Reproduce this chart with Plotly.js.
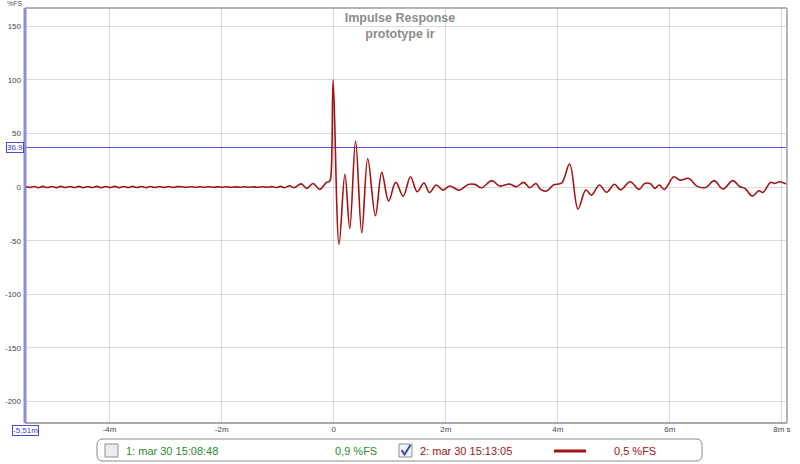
<!DOCTYPE html>
<html>
<head>
<meta charset="utf-8">
<script src="https://cdn.plot.ly/plotly-3.0.1.min.js"></script>
<style>
html,body{margin:0;padding:0;background:#fff;}
#chart{width:800px;height:464px;}
</style>
</head>
<body>
<div id="chart"></div>
<script>
// ---- data (time in ms, amplitude in %FS) ----
const timeMs = [
 -5.51,-5.43,-5.35,-5.27,-5.19,-5.11,-5.03,-4.95,-4.87,-4.79,-4.71,-4.63,-4.55,-4.47,-4.39,-4.31,-4.23,-4.15,-4.07,-3.99,
 -3.91,-3.83,-3.75,-3.67,-3.59,-3.51,-3.43,-3.35,-3.27,-3.19,-3.11,-3.03,-2.95,-2.87,-2.79,
 -2.71,-2.63,-2.55,-2.47,-2.39,-2.31,-2.23,-2.15,-2.07,-1.99,-1.91,-1.83,-1.75,-1.67,-1.59,-1.51,-1.43,-1.35,-1.27,-1.19,
 -1.11,-1.03,-0.95,-0.87,-0.79,-0.71,
 -0.58,-0.48,-0.37,-0.25,-0.13,-0.08,-0.055,-0.01,
 0.095,0.2,0.286,0.39,0.5,0.607,0.744,0.857,0.98,1.107,1.24,1.37,1.49,1.61,1.71,1.83,1.95,2.07,2.24,2.4,2.52,2.64,
 2.82,2.96,3.14,3.26,3.39,3.5,3.61,3.69,3.8,3.92,4.07,4.21,4.36,4.5,4.6,4.74,4.87,5.01,5.12,5.29,5.45,5.55,5.66,5.73,
 5.81,5.9,6.07,6.18,6.34,6.48,6.64,6.79,6.95,7.12,7.25,7.34,7.47,7.59,7.66,7.8,7.87,7.96,8.09
];
const responsePct = [
 0.7,-0.4,0.6,-0.5,0.7,-0.4,0.6,-0.5,0.7,-0.4,0.6,-0.4,0.7,-0.5,0.6,-0.4,0.7,-0.5,0.6,-0.4,
 0.7,-0.5,0.6,-0.4,0.7,-0.4,0.6,-0.5,0.6,-0.4,0.6,-0.4,0.5,-0.3,0.4,
 0.3,-0.2,0.3,-0.2,0.3,-0.1,0.3,-0.2,0.2,-0.1,0.3,-0.1,0.2,-0.2,0.3,-0.1,0.2,-0.2,0.3,-0.2,
 0.4,-0.4,0.7,-0.6,1.3,-0.5,
 3.0,-1.2,3.4,-2.1,4.4,5.0,8.0,100,
 -53.5,12,-38.5,43,-42.6,26.7,-26.7,13.7,-13,4.4,-8.4,9.6,-4.4,3.8,-5,2,-2.8,1,-2.8,2.5,2.5,-0.6,
 6,1,2.8,0.3,4.4,-0.6,3.4,-2.1,-3.7,1.9,4,21.5,-20.5,-2.8,-7.5,1.9,-4.8,2.6,-2.5,5,-2.1,3.4,2.8,-1.2,
 1.9,-2.1,9.6,6.5,8.1,0.9,-0.3,6,-1.9,6,0.3,-1.2,-8.4,-3.4,-5,4.4,3.4,5,2.5
];
const xRange = [-5.51, 8.09];
const yRange = [-220, 167];
const cursorLevel = 36.9;
const xTickVals = [-4,-2,0,2,4,6,8];
const xTickText = ['-4m','-2m','0','2m','4m','6m','8m s'];
const yTickVals = [-200,-150,-100,-50,0,50,100,150];
const yTickText = ['-200','-150','-100','-50','0','50','100','150'];
const legendNames = ['1: mar 30 15:08:48','2: mar 30 15:13:05'];
const legendValues = ['0,9 %FS','0,5 %FS'];
const xStartLabel = '-5,51m';

// ---- layout helpers (pixel -> paper) ----
const L=25,R=787,T=8,B=423;
const px = x => (x-L)/(R-L);
const py = y => (B-y)/(B-T);

const red = '#a01414';
const green = '#2e8b2e';
const font = 'Liberation Sans, Arial, sans-serif';

const cursorTrace = {
  x: xRange, y: [cursorLevel, cursorLevel], type:'scatter', mode:'lines',
  line:{color:'#5a5ae8', width:1.2}, hoverinfo:'skip', showlegend:false, cliponaxis:false
};
const trace = {
  x: timeMs, y: responsePct, type:'scatter', mode:'lines',
  line:{color:red, width:1.6, shape:'spline', smoothing:1},
  hoverinfo:'skip', showlegend:false
};

function rrect(x0,y0,x1,y1,r){
  const rx=r/(R-L), ry=r/(B-T);
  const X0=px(x0),X1=px(x1),Y0=py(y0),Y1=py(y1);
  return `M ${X0+rx} ${Y0} L ${X1-rx} ${Y0} Q ${X1} ${Y0} ${X1} ${Y0-ry} L ${X1} ${Y1+ry} Q ${X1} ${Y1} ${X1-rx} ${Y1} L ${X0+rx} ${Y1} Q ${X0} ${Y1} ${X0} ${Y1+ry} L ${X0} ${Y0-ry} Q ${X0} ${Y0} ${X0+rx} ${Y0} Z`;
}

const shapes = [
  // plot frame
  {type:'line', xref:'paper', yref:'paper', x0:0, x1:1, y0:1, y1:1, line:{color:'#b4b4b4', width:2}},
  {type:'line', xref:'paper', yref:'paper', x0:1, x1:1, y0:0, y1:1, line:{color:'#b4b4b4', width:2}},
  {type:'line', xref:'paper', yref:'paper', x0:0, x1:1, y0:0, y1:0, line:{color:'#a8a8a8', width:2}},
  {type:'line', xref:'paper', yref:'paper', x0:0, x1:0, y0:0, y1:1, line:{color:'#8c8cdc', width:3}},
  // legend box
  {type:'path', xref:'paper', yref:'paper', path:rrect(97,439,702,461,6), line:{color:'#8a8a8a', width:1}, fillcolor:'#ffffff'},
  // checkbox 1
  {type:'rect', xref:'paper', yref:'paper', x0:px(105), x1:px(118), y0:py(457), y1:py(444), line:{color:'#8f8f8f', width:1}, fillcolor:'#ececec'},
  // checkbox 2
  {type:'rect', xref:'paper', yref:'paper', x0:px(399), x1:px(412), y0:py(457), y1:py(444), line:{color:'#8f8f8f', width:1}, fillcolor:'#f2f2f2'},
  {type:'path', xref:'paper', yref:'paper', path:`M ${px(401.5)} ${py(450)} L ${px(404.5)} ${py(454.5)} L ${px(410.5)} ${py(445)}`, line:{color:'#2b4ea8', width:2}},
  // legend line sample
  {type:'line', xref:'paper', yref:'paper', x0:px(554), x1:px(586), y0:py(451), y1:py(451), line:{color:red, width:3}}
];

const annotations = [
  {xref:'paper', yref:'paper', x:px(15), y:py(3), text:'%FS', showarrow:false, font:{family:font, size:7, color:'#555'}, xanchor:'center', yanchor:'middle'},
  {xref:'paper', yref:'y', x:px(14.5), y:cursorLevel, text:'36.9', showarrow:false, font:{family:font, size:8, color:'#3c3cc8'},
   bordercolor:'#4a4ad0', borderwidth:1, borderpad:0, bgcolor:'#fff', xanchor:'center', yanchor:'middle'},
  {xref:'paper', yref:'paper', x:px(25), y:py(431), text:xStartLabel, showarrow:false, font:{family:font, size:8, color:'#3c3cc8'},
   bordercolor:'#4a4ad0', borderwidth:1, borderpad:0, bgcolor:'#fff', xanchor:'center', yanchor:'middle'},
  {xref:'paper', yref:'paper', x:px(124), y:py(451), text:legendNames[0], showarrow:false, font:{family:font, size:11, color:green}, xanchor:'left', yanchor:'middle'},
  {xref:'paper', yref:'paper', x:px(333), y:py(451), text:legendValues[0], showarrow:false, font:{family:font, size:11, color:green}, xanchor:'left', yanchor:'middle'},
  {xref:'paper', yref:'paper', x:px(418), y:py(451), text:legendNames[1], showarrow:false, font:{family:font, size:11, color:red}, xanchor:'left', yanchor:'middle'},
  {xref:'paper', yref:'paper', x:px(612), y:py(451), text:legendValues[1], showarrow:false, font:{family:font, size:11, color:red}, xanchor:'left', yanchor:'middle'}
];

const layout = {
  width:800, height:464,
  margin:{l:L, r:800-R, t:T, b:464-B, pad:0},
  paper_bgcolor:'#ffffff', plot_bgcolor:'#ffffff',
  title:{text:'<b>Impulse Response</b><br><b>prototype ir</b>', x:0.5, xanchor:'center', y:1-22/464, yanchor:'top',
         font:{family:font, size:12.5, color:'#8c8c8c'}},
  xaxis:{range:xRange, tickvals:xTickVals, ticktext:xTickText, showgrid:true, gridcolor:'#dadada', gridwidth:1,
         zeroline:false, showline:false, ticks:'', tickfont:{family:font, size:8, color:'#444'}, fixedrange:true},
  yaxis:{range:yRange, tickvals:yTickVals, ticktext:yTickText, showgrid:true, gridcolor:'#dadada', gridwidth:1,
         zeroline:false, showline:false, ticks:'', ticklabelstandoff:3, tickfont:{family:font, size:8, color:'#444'}, fixedrange:true},
  shapes:shapes,
  annotations:annotations,
  showlegend:false
};

Plotly.newPlot('chart', [cursorTrace, trace], layout, {displayModeBar:false, staticPlot:true});
</script>
</body>
</html>
